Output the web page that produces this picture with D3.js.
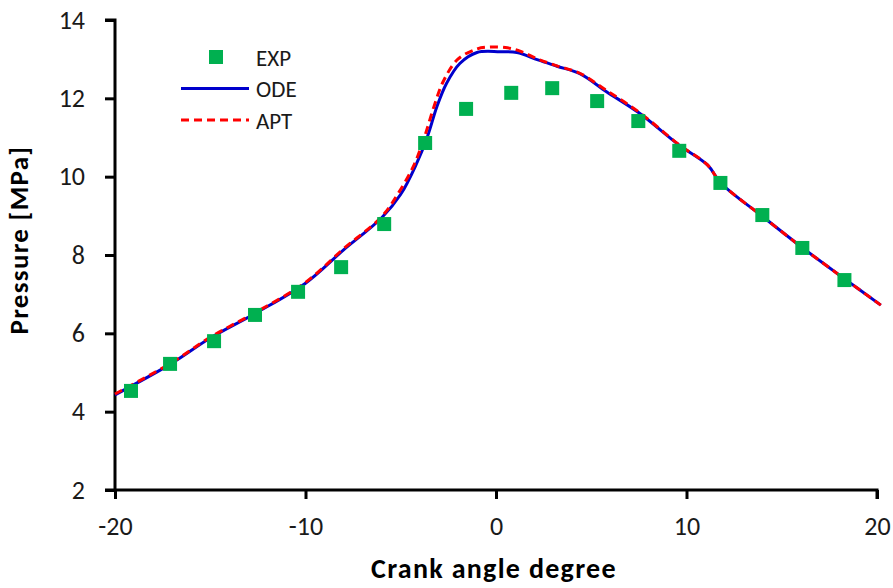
<!DOCTYPE html>
<meta charset="utf-8">
<head>
<style>
    body {margin: 0; background: #fff;}
    .tick text {font-family: Carlito, "Open Sans", sans-serif;}
</style>
</head>
<body>
<div class="chart"></div>
<script src="https://d3js.org/d3.v7.min.js"></script>
<script>
// measured data (crank angle in degrees, pressure in MPa)
var exp_x = [-19.16, -17.11, -14.8, -12.65, -10.39, -8.13, -5.87, -3.72, -1.57, 0.8, 2.95, 5.31, 7.47, 9.62, 11.78, 13.98, 16.08, 18.29];
var exp_y = [4.53, 5.22, 5.8, 6.47, 7.06, 7.69, 8.79, 10.86, 11.73, 12.14, 12.26, 11.93, 11.42, 10.66, 9.84, 9.02, 8.18, 7.36];

var ode_x = [-20, -17, -15, -12.6, -10, -8, -6, -5, -4.2, -3.6, -3.1, -2.6, -1.9, -1.0, 0.2, 1.1, 2.2, 3.2, 4.4, 5.8, 7.5, 9.6, 11.1, 11.8, 14.0, 16.1, 18.3, 20.2];
var ode_y = [4.43, 5.24, 5.88, 6.52, 7.28, 8.13, 8.95, 9.55, 10.3, 11.02, 11.79, 12.38, 12.89, 13.17, 13.19, 13.17, 12.98, 12.82, 12.63, 12.17, 11.63, 10.81, 10.3, 9.84, 8.98, 8.18, 7.39, 6.72];

var apt_x = [-20, -17, -15, -12.6, -10, -8, -6, -5.1, -4.3, -3.75, -3.25, -2.75, -2.0, -1.0, -0.3, 0.6, 1.3, 2.2, 3.2, 4.4, 5.8, 7.5, 9.6, 11.1, 11.8, 14.0, 16.1, 18.3, 20.2];
var apt_y = [4.45, 5.26, 5.9, 6.54, 7.3, 8.16, 8.98, 9.6, 10.3, 11.02, 11.8, 12.45, 13.0, 13.26, 13.31, 13.29, 13.2, 13.0, 12.83, 12.64, 12.2, 11.65, 10.82, 10.3, 9.84, 8.98, 8.18, 7.39, 6.72];

var x_ticks = [-20, -10, 0, 10, 20];
var y_ticks = [2, 4, 6, 8, 10, 12, 14];
var legend_labels = ["EXP", "ODE", "APT"];

var margin = {top: 20, right: 16, bottom: 98, left: 115},
    width = 762, height = 470;

var x = d3.scaleLinear().domain([-20, 20]).range([0, width]);
var y = d3.scaleLinear().domain([2, 14]).range([height, 0]);

var svg = d3.select(".chart").append("svg")
    .attr("width", 893)
    .attr("height", 588);

var g = svg.append("g").attr("transform", "translate(" + margin.left + "," + margin.top + ")");

var fmt = function (d) { return String(d); };  // plain hyphen minus like the original

var xAxis = g.append("g")
    .attr("transform", "translate(0," + height + ")")
    .call(d3.axisBottom(x).tickValues(x_ticks).tickFormat(fmt).tickSize(9).tickPadding(18));
var yAxis = g.append("g")
    .call(d3.axisLeft(y).tickValues(y_ticks).tickFormat(fmt).tickSize(10).tickPadding(20));

[xAxis, yAxis].forEach(function (a) {
    a.select(".domain").attr("stroke", "#000").attr("stroke-width", 3);
    a.selectAll(".tick line").attr("stroke", "#000").attr("stroke-width", 3);
    a.selectAll(".tick text").attr("fill", "#1a1a1a").style("font-size", "26px");
});
xAxis.select(".domain").attr("d", "M-10,0H" + width + "V9");
yAxis.select(".domain").attr("d", "M-10,0H0V" + height);

function to_pts(xs, ys) {
    return xs.map(function (d, i) { return [d, ys[i]]; });
}

var line = d3.line()
    .x(function (d) { return x(d[0]); })
    .y(function (d) { return y(d[1]); })
    .curve(d3.curveCatmullRom.alpha(0.5));

g.append("path")
    .datum(to_pts(ode_x, ode_y))
    .attr("d", line)
    .attr("fill", "none")
    .attr("stroke", "#0000cc")
    .attr("stroke-width", 3);

g.append("path")
    .datum(to_pts(apt_x, apt_y))
    .attr("d", line)
    .attr("fill", "none")
    .attr("stroke", "#ff0000")
    .attr("stroke-width", 3)
    .attr("stroke-dasharray", "8,5");

var sq = 14;
g.selectAll(".exp").data(to_pts(exp_x, exp_y)).enter().append("rect")
    .attr("class", "exp")
    .attr("x", function (d) { return x(d[0]) - sq / 2; })
    .attr("y", function (d) { return y(d[1]) - sq / 2; })
    .attr("width", sq)
    .attr("height", sq)
    .attr("fill", "#00b050");

// legend
var lg = svg.append("g").style("font-family", "Carlito, 'Open Sans', sans-serif").style("font-size", "23px");
lg.append("rect").attr("x", 209).attr("y", 50).attr("width", 14).attr("height", 14).attr("fill", "#00b050");
lg.append("line").attr("x1", 181).attr("x2", 249).attr("y1", 88.5).attr("y2", 88.5)
    .attr("stroke", "#0000cc").attr("stroke-width", 3);
lg.append("line").attr("x1", 181).attr("x2", 249).attr("y1", 120).attr("y2", 120)
    .attr("stroke", "#ff0000").attr("stroke-width", 3).attr("stroke-dasharray", "8,5");
legend_labels.forEach(function (t, i) {
    lg.append("text").attr("x", 256).attr("y", 57.5 + i * 31.7).attr("dy", "0.35em")
        .attr("fill", "#1a1a1a").text(t);
});

// axis titles
svg.append("text")
    .attr("x", 494).attr("y", 578)
    .attr("text-anchor", "middle")
    .style("font-family", "Carlito, 'Open Sans', sans-serif")
    .style("font-weight", "bold").style("font-size", "28px")
    .style("letter-spacing", "1.3px")
    .text("Crank angle degree");

svg.append("text")
    .attr("transform", "translate(28,240) rotate(-90)")
    .attr("text-anchor", "middle")
    .style("font-family", "Carlito, 'Open Sans', sans-serif")
    .style("font-weight", "bold").style("font-size", "27px")
    .style("letter-spacing", "1.3px")
    .text("Pressure [MPa]");
</script>
</body>
